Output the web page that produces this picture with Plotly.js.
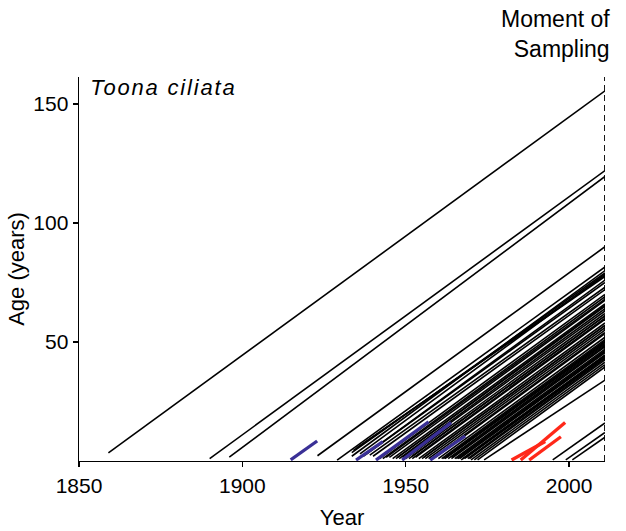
<!DOCTYPE html>
<html>
<head>
<meta charset="utf-8">
<script src="https://cdn.plot.ly/plotly-3.0.1.min.js"></script>
<style>
  html, body { margin: 0; padding: 0; background: #fff; }
  #chart { width: 626px; height: 531px; }
</style>
</head>
<body>
<div id="chart"></div>
<script>
// ---- Data ----
const samplingYear = 2011;
const yMax = 161.3;

// Black lines: each tree from (start year, start age) to (sampling year, end age)
const blackStartYear = [1859, 1890, 1896, 1923, 1929, 1933.5, 1933.5, 1934, 1935, 1936, 1937, 1938, 1939, 1940, 1942, 1943, 1944, 1945, 1946, 1947, 1947.5, 1948, 1949, 1950, 1951, 1952, 1952, 1953, 1954, 1955, 1955.5, 1956, 1957, 1958, 1959, 1960, 1961, 1961.5, 1962, 1962.5, 1963, 1964, 1964, 1965, 1965.5, 1966, 1966.5, 1967, 1967.5, 1968, 1968.5, 1969, 1969.5, 1970, 1971, 1972, 1974, 1995, 1999, 2001];
const blackStartAge  = [3.4, 1, 1.6, 2.2, 0.4, 2, 3.5, 4.5, 5.5, 3, 2, 3, 2.5, 2, 1, 1, 1.5, 1.5, 1, 1, 1.5, 1, 1.5, 1, 1, 1, 2, 1.5, 1, 1, 1.5, 1, 1, 1, 1.5, 1, 1, 1, 1, 1.5, 1, 1, 1.5, 1, 1, 1, 1, 0.5, 1, 1, 1.5, 1, 1, 0.5, 0.5, 0.5, 0.5, 0.5, 0.5, 0.5];
const blackEndAge    = [155.5, 122, 119.5, 90, 81.5, 80, 79, 78, 77.5, 78.5, 75, 76, 73, 72, 70, 69, 68, 67.5, 66, 65, 65.5, 64, 63, 62, 61, 60, 61, 59.5, 58, 57, 57, 56, 55, 54, 53.5, 52, 51, 50.5, 50, 49.5, 49, 48, 48.5, 47, 46.5, 46, 45.5, 44.5, 44.5, 44, 43.5, 43, 42.5, 41.5, 40.5, 39.5, 34, 16, 12, 10];

// Blue segments
const blueStartYear = [1914.8, 1934.8, 1940.9, 1948.9, 1957.5];
const blueStartAge  = [0.5, 0.4, 0.4, 0.4, 0.4];
const blueEndYear   = [1922.9, 1943.0, 1957.0, 1963.9, 1968.2];
const blueEndAge    = [8.4, 8.1, 16.5, 16.1, 10.5];

// Red segments
const redStartYear = [1982.4, 1985.2, 1987.8];
const redStartAge  = [0.4, 0.4, 0.4];
const redEndYear   = [1992.7, 1998.8, 1997.5];
const redEndAge    = [8.2, 16.2, 10.2];

// Axis ticks
const xTicks = [1850, 1900, 1950, 2000];
const yTicks = [50, 100, 150];

// ---- Build traces ----
function segs(x0, y0, x1, y1) {
  const xs = [], ys = [];
  for (let i = 0; i < x0.length; i++) {
    xs.push(x0[i], x1[i], null);
    ys.push(y0[i], y1[i], null);
  }
  return {xs, ys};
}
const blackEndYear = blackStartYear.map(() => samplingYear);
const b = segs(blackStartYear, blackStartAge, blackEndYear, blackEndAge);
const bl = segs(blueStartYear, blueStartAge, blueEndYear, blueEndAge);
const rd = segs(redStartYear, redStartAge, redEndYear, redEndAge);

const traces = [
  {x: b.xs, y: b.ys, mode: 'lines', line: {color: '#000', width: 1.6}, hoverinfo: 'skip', showlegend: false},
  {x: bl.xs, y: bl.ys, mode: 'lines', line: {color: 'rgb(58,48,150)', width: 3.3}, hoverinfo: 'skip', showlegend: false},
  {x: rd.xs, y: rd.ys, mode: 'lines', line: {color: 'rgb(255,40,25)', width: 3.3}, hoverinfo: 'skip', showlegend: false},
  // moment of sampling
  {x: [samplingYear, samplingYear], y: [0, yMax], mode: 'lines', cliponaxis: false,
   line: {color: '#000', width: 1.8, dash: '6px,4px'}, hoverinfo: 'skip', showlegend: false}
];

const font = 'Liberation Sans, Arial, sans-serif';
const layout = {
  width: 626, height: 531,
  margin: {l: 79, r: 21, t: 77, b: 70},
  paper_bgcolor: '#fff', plot_bgcolor: '#fff',
  showlegend: false,
  xaxis: {
    range: [1850, samplingYear], tickvals: xTicks, ticktext: xTicks.map(String),
    showgrid: false, zeroline: false, showline: true, linecolor: '#000', linewidth: 1.4,
    ticks: 'outside', ticklen: 5, tickwidth: 1.3, tickcolor: '#000',
    tickfont: {family: font, size: 21, color: '#000'},
    title: {text: 'Year', font: {family: font, size: 22, color: '#000'}, standoff: 14}
  },
  yaxis: {
    range: [0, yMax], tickvals: yTicks, ticktext: yTicks.map(String),
    showgrid: false, zeroline: false, showline: true, linecolor: '#000', linewidth: 1.4,
    ticks: 'outside', ticklen: 5, tickwidth: 1.3, tickcolor: '#000',
    tickfont: {family: font, size: 21, color: '#000'},
    title: {text: 'Age (years)', font: {family: font, size: 22, color: '#000'}, standoff: 2}
  },
  annotations: [
    {text: 'Moment of<br>Sampling', xref: 'paper', yref: 'paper', x: 1.014, y: 1.19,
     xanchor: 'right', yanchor: 'top', align: 'right', showarrow: false,
     font: {family: font, size: 23, color: '#000'}},
    {text: '<i>Toona ciliata</i>', xref: 'paper', yref: 'paper', x: 0.04, y: 0.972,
     xanchor: 'left', yanchor: 'middle', showarrow: false,
     font: {family: font, size: 22, color: '#000'}}
  ]
};

Plotly.newPlot('chart', traces, layout, {staticPlot: true, displayModeBar: false}).then(() => {
  // letter-spaced species name, as in the reference
  document.querySelectorAll('.annotation-text').forEach(t => {
    if (t.textContent.indexOf('Toona') === 0) t.style.letterSpacing = '1.8px';
  });
});
</script>
</body>
</html>
